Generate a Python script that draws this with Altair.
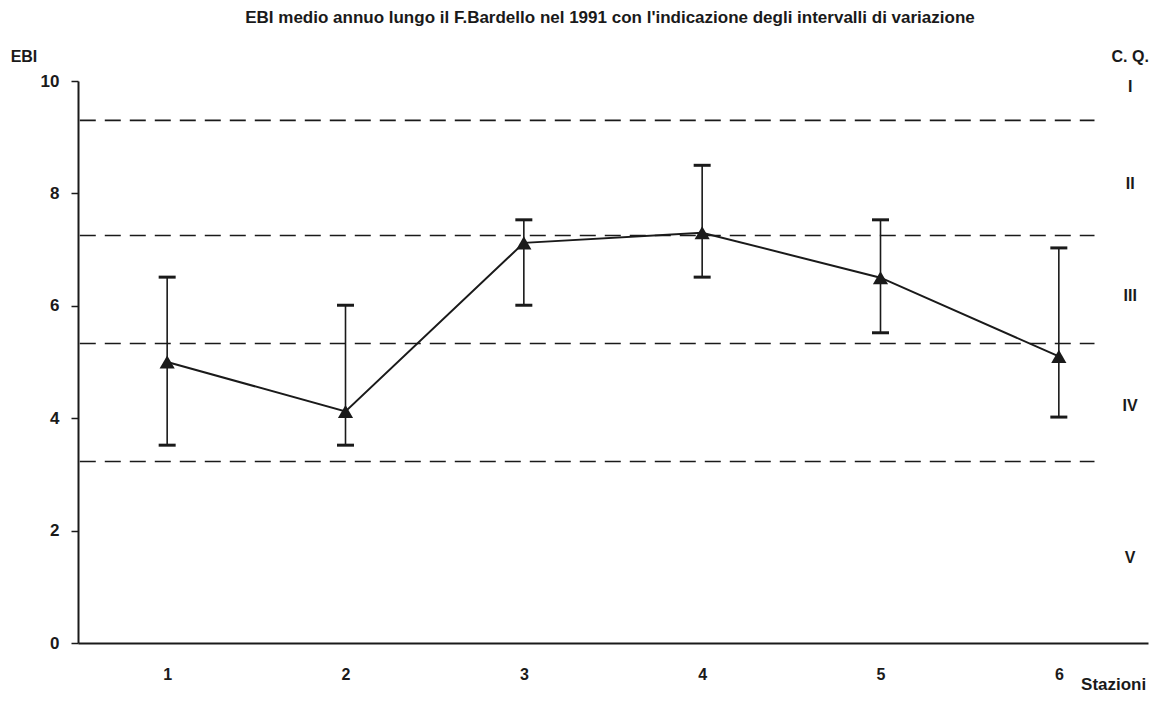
import altair as alt
import pandas as pd

# --- data ---
stations = [1, 2, 3, 4, 5, 6]
ebi_mean = [5.0, 4.12, 7.12, 7.3, 6.5, 5.1]
ebi_min = [3.52, 3.52, 6.01, 6.51, 5.52, 4.02]
ebi_max = [6.51, 6.01, 7.53, 8.5, 7.53, 7.03]

class_limits = [9.3, 7.25, 5.33, 3.23]
class_labels = ["C. Q.", "I", "II", "III", "IV", "V"]
class_label_y = [10.43, 9.89, 8.17, 6.17, 4.22, 1.51]

title_text = "EBI medio annuo lungo il F.Bardello nel 1991 con l'indicazione degli intervalli di variazione"
y_title = "EBI"
x_title = "Stazioni"

FONT = "Liberation Sans"
INK = "#1a1a1a"

df = pd.DataFrame({"st": stations, "m": ebi_mean, "lo": ebi_min, "hi": ebi_max})
df_lim = pd.DataFrame({"y": class_limits, "x0": [0.51] * 4, "x1": [6.2] * 4})
df_cq = pd.DataFrame({"t": class_labels, "y": class_label_y, "x": [6.40] * 6})
df_txt = pd.DataFrame({
    "t": [title_text, y_title],
    "x": [3.483, 0.197],
    "y": [11.12, 10.43],
    "s": [17, 16],
})
df_st = pd.DataFrame({"t": [x_title], "x": [6.49], "y": [-0.74]})

xs = alt.Scale(domain=[0.5, 6.5], nice=False, zero=False)
ys = alt.Scale(domain=[0, 10], nice=False, zero=False)

x_enc = alt.X("st:Q", scale=xs, axis=alt.Axis(
    values=stations, title=None, ticks=False, grid=False, domainColor=INK, domainWidth=2,
    labelFont=FONT, labelFontSize=16, labelFontWeight="bold", labelColor=INK, labelPadding=23,
    format="d"))
y_enc = alt.Y("m:Q", scale=ys, axis=alt.Axis(
    values=[0, 2, 4, 6, 8, 10], title=None, grid=False, domainColor=INK, domainWidth=2,
    tickColor=INK, tickSize=7, tickWidth=1.5, labelFont=FONT, labelFontSize=17,
    labelFontWeight="bold", labelColor=INK, labelPadding=12, format="d"))

line = alt.Chart(df).mark_line(color=INK, strokeWidth=2).encode(x=x_enc, y=y_enc)

limits = alt.Chart(df_lim).mark_rule(color=INK, strokeWidth=1.6, strokeDash=[16, 9]).encode(
    x=alt.X("x0:Q", scale=xs), x2="x1:Q", y=alt.Y("y:Q", scale=ys))

whisk = alt.Chart(df).mark_rule(color=INK, strokeWidth=1.6).encode(
    x=alt.X("st:Q", scale=xs), y=alt.Y("lo:Q", scale=ys), y2="hi:Q")

cap_lo = alt.Chart(df).mark_tick(color=INK, opacity=1, orient="horizontal", size=17, thickness=3).encode(
    x=alt.X("st:Q", scale=xs), y=alt.Y("lo:Q", scale=ys))
cap_hi = alt.Chart(df).mark_tick(color=INK, opacity=1, orient="horizontal", size=17, thickness=3).encode(
    x=alt.X("st:Q", scale=xs), y=alt.Y("hi:Q", scale=ys))

pts = alt.Chart(df).mark_point(shape="triangle-up", filled=True, color=INK, opacity=1, size=230).encode(
    x=alt.X("st:Q", scale=xs), y=alt.Y("m:Q", scale=ys))

cq = alt.Chart(df_cq).mark_text(font=FONT, fontWeight="bold", fontSize=16, color=INK,
                                align="center", baseline="middle").encode(
    x=alt.X("x:Q", scale=xs), y=alt.Y("y:Q", scale=ys), text="t:N")

txt = alt.Chart(df_txt).mark_text(font=FONT, fontWeight="bold", color=INK,
                                  align="center", baseline="middle").encode(
    x=alt.X("x:Q", scale=xs), y=alt.Y("y:Q", scale=ys), text="t:N",
    size=alt.Size("s:Q", scale=None, legend=None))

st = alt.Chart(df_st).mark_text(font=FONT, fontWeight="bold", fontSize=17, color=INK,
                                align="right", baseline="middle").encode(
    x=alt.X("x:Q", scale=xs), y=alt.Y("y:Q", scale=ys), text="t:N")

chart = alt.layer(limits, whisk, cap_lo, cap_hi, line, pts, cq, txt, st).properties(
    width=1070, height=562,
    autosize=alt.AutoSizeParams(type="none"),
    padding={"left": 70, "top": 73, "right": 3, "bottom": 51},
    background="white",
).configure_view(stroke=None)

chart.save("out.html", embed_options={"renderer": "svg", "actions": False})
